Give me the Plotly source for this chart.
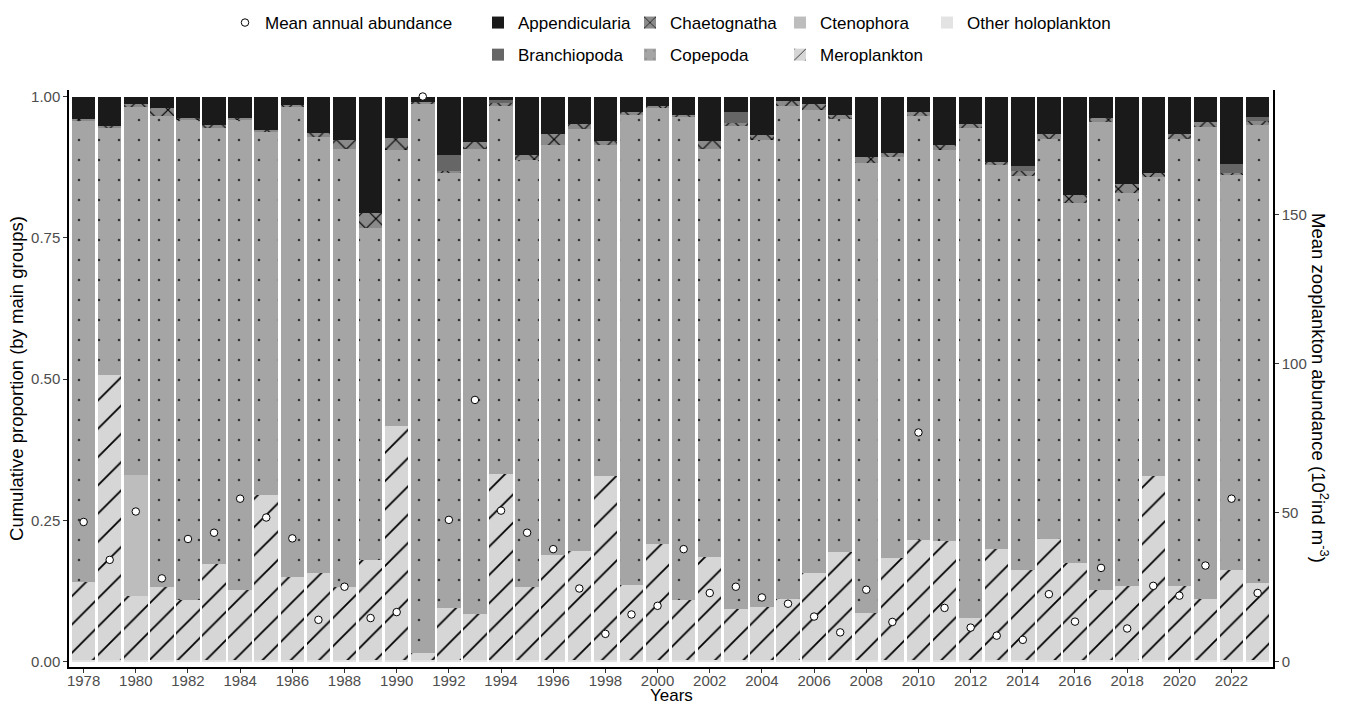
import plotly.graph_objects as go

years = list(range(1978, 2024))

other_holo = [0.003] * 46
meroplankton = [0.139, 0.504, 0.114, 0.130, 0.106, 0.171, 0.124, 0.293, 0.147, 0.155,
                0.130, 0.177, 0.414, 0.012, 0.092, 0.082, 0.330, 0.130, 0.186, 0.193,
                0.326, 0.133, 0.205, 0.107, 0.183, 0.090, 0.094, 0.109, 0.154, 0.192,
                0.084, 0.181, 0.213, 0.211, 0.074, 0.197, 0.160, 0.214, 0.172, 0.125,
                0.132, 0.326, 0.132, 0.109, 0.159, 0.136]
ctenophora = [0.0, 0.0, 0.213] + [0.0] * 43
copepoda = [0.815, 0.438, 0.653, 0.832, 0.851, 0.770, 0.831, 0.642, 0.833, 0.771,
            0.775, 0.587, 0.488, 0.973, 0.770, 0.823, 0.650, 0.754, 0.726, 0.747,
            0.586, 0.831, 0.772, 0.855, 0.722, 0.854, 0.826, 0.871, 0.819, 0.766,
            0.795, 0.709, 0.750, 0.691, 0.867, 0.678, 0.697, 0.707, 0.636, 0.827,
            0.695, 0.529, 0.790, 0.834, 0.700, 0.811]
chaetognatha = [0.004, 0.003, 0.003, 0.014, 0.002, 0.005, 0.004, 0.003, 0.002, 0.006,
                0.015, 0.027, 0.022, 0.003, 0.003, 0.011, 0.006, 0.010, 0.018, 0.009,
                0.006, 0.005, 0.004, 0.003, 0.013, 0.006, 0.009, 0.009, 0.010, 0.007,
                0.011, 0.007, 0.006, 0.009, 0.007, 0.006, 0.009, 0.010, 0.014, 0.007,
                0.016, 0.007, 0.009, 0.009, 0.003, 0.006]
branchiopoda = [0.0] * 14 + [0.029, 0.0, 0.004] + [0.0] * 8 + [0.019] + [0.0] * 10 + \
               [0.008] + [0.0] * 7 + [0.015, 0.008]
appendicularia = [0.039, 0.052, 0.014, 0.021, 0.038, 0.051, 0.038, 0.059, 0.015, 0.065,
                  0.077, 0.206, 0.073, 0.009, 0.103, 0.081, 0.007, 0.103, 0.067, 0.048,
                  0.079, 0.028, 0.016, 0.032, 0.079, 0.028, 0.068, 0.008, 0.014, 0.032,
                  0.107, 0.100, 0.028, 0.086, 0.049, 0.116, 0.123, 0.066, 0.175, 0.038,
                  0.154, 0.135, 0.066, 0.045, 0.120, 0.036]
mean_abundance = [46.9, 34.2, 50.4, 28.0, 41.2, 43.3, 54.7, 48.4, 41.4, 14.1,
                  25.2, 14.7, 16.7, 189.5, 47.6, 87.8, 50.7, 43.3, 37.8, 24.6,
                  9.4, 15.9, 18.8, 37.8, 23.1, 25.2, 21.6, 19.5, 15.2, 9.9,
                  24.2, 13.4, 76.9, 18.1, 11.5, 8.8, 7.4, 22.7, 13.5, 31.5,
                  11.2, 25.5, 22.2, 32.3, 54.7, 23.1]

SCALE = 189.5
FONT = "Liberation Sans, Arial, sans-serif"
L, R, T, B = 69, 73, 90, 39
PW = 1346 - L - R
PH = 706 - T - B

fig = go.Figure()

def add_bar(name, vals, bg, legend, rank, shape="", fg="black", size=10, solidity=0.3):
    pattern = dict(shape=shape, bgcolor=bg, fgcolor=fg, size=size, solidity=solidity,
                   fillmode="replace") if shape else dict(shape="")
    fig.add_trace(go.Bar(
        x=years, y=vals, name=name, width=0.9, legendgroup=name, showlegend=True,
        legendrank=rank,
        marker=dict(color=bg, line=dict(width=0), pattern=pattern),
        legend=legend, yaxis="y"))

add_bar("Other holoplankton", other_holo, "#e3e3e3", "legend5", 1)
add_bar("Meroplankton", meroplankton, "#d6d6d6", "legend4", 2, shape="/", fg="black", size=20, solidity=0.09)
add_bar("Ctenophora", ctenophora, "#bdbdbd", "legend4", 1)
add_bar("Copepoda", copepoda, "#a5a5a5", "legend3", 2, shape=".", fg="#333333", size=20, solidity=0.013)
add_bar("Chaetognatha", chaetognatha, "#8a8a8a", "legend3", 1, shape="x", fg="black", size=14, solidity=0.16)
add_bar("Branchiopoda", branchiopoda, "#666666", "legend2", 2)
add_bar("Appendicularia", appendicularia, "#1a1a1a", "legend2", 1)

fig.add_trace(go.Scatter(
    x=years, y=mean_abundance, mode="markers", name="Mean annual abundance",
    showlegend=True,
    marker=dict(symbol="circle", size=7.5, color="white", line=dict(color="black", width=1)),
    yaxis="y2", legend="legend"))

tick_font = dict(family=FONT, size=15, color="#4d4d4d")
title_font = dict(family=FONT, size=18.5, color="black")
leg_font = dict(family=FONT, size=17, color="black")

def px_x(p):
    return (p - L) / PW

def px_y(p):
    return (706 - B - p) / PH

LEG_TOP = px_y(5)

def col_legend(center_px):
    return dict(orientation="v", x=px_x(center_px - 20), y=LEG_TOP, xanchor="left", yanchor="top",
                font=leg_font, traceorder="grouped", tracegroupgap=7,
                bgcolor="rgba(0,0,0,0)", borderwidth=0)

axis_common = dict(showgrid=False, zeroline=False, showline=True, linecolor="black", linewidth=1.5,
                   ticks="outside", ticklen=4, tickcolor="#333333", tickwidth=1.2,
                   tickfont=tick_font, automargin=False)

fig.update_layout(
    width=1346, height=706,
    margin=dict(l=L, r=R, t=T, b=B, autoexpand=False),
    paper_bgcolor="white", plot_bgcolor="white",
    barmode="stack", bargap=0.1, showlegend=True,
    font=dict(family=FONT, size=15, color="black"),
    xaxis=dict(
        range=[1977.44, 2023.59], tickvals=list(range(1978, 2023, 2)),
        ticklabelstandoff=-5,
        **axis_common),
    yaxis=dict(
        range=[-0.009, 1.0115], tickvals=[0, 0.25, 0.5, 0.75, 1.0], tickformat=".2f",
        title=dict(text="Cumulative proportion (by main groups)", font=title_font, standoff=3),
        **axis_common),
    yaxis2=dict(
        overlaying="y", side="right",
        range=[-0.009 * SCALE, 1.0115 * SCALE], tickvals=[0, 50, 100, 150],
        **axis_common),
    legend=dict(orientation="v", x=px_x(225), y=LEG_TOP, xanchor="left", yanchor="top",
                font=leg_font, bgcolor="rgba(0,0,0,0)", borderwidth=0),
    legend2=col_legend(498),
    legend3=col_legend(650),
    legend4=col_legend(800),
    legend5=col_legend(947),
    annotations=[
        dict(text="Mean zooplankton abundance (10<sup>2</sup>ind m<sup>-3</sup>)",
             xref="paper", yref="paper", x=1.0 + 47 / PW, y=px_y(388),
             xanchor="center", yanchor="middle",
             textangle=90, showarrow=False, font=title_font),
        dict(text="Years", xref="paper", yref="paper", x=0.5, y=px_y(706),
             xanchor="center", yanchor="bottom", showarrow=False, borderpad=0,
             font=dict(family=FONT, size=17, color="black")),
    ],
)

fig.write_html("out.html", config={"displayModeBar": False},
               post_script="document.body.style.margin='0px';")
